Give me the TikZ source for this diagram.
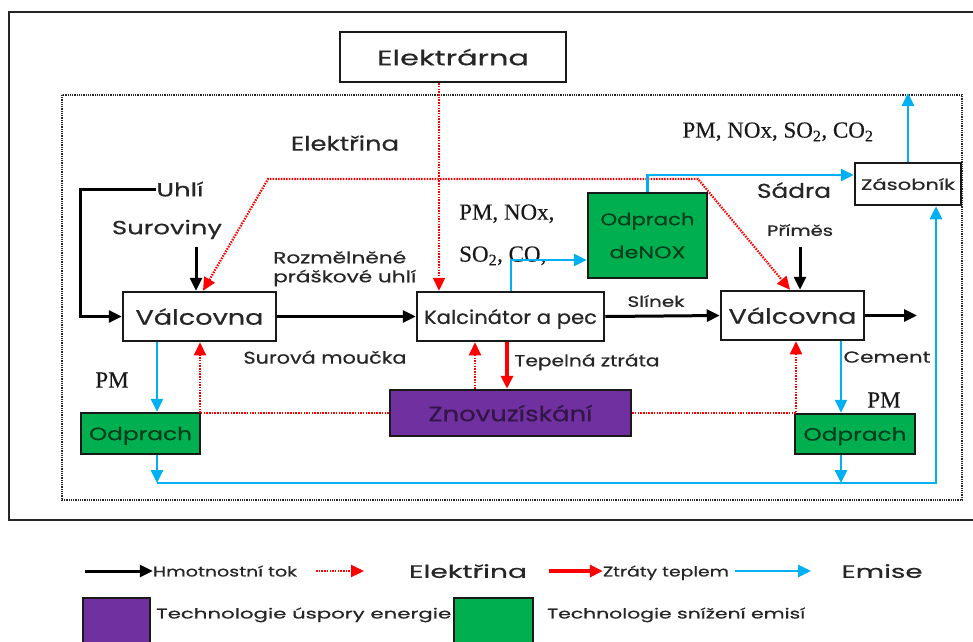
\documentclass[tikz,border=0pt]{standalone}
\usepackage{fontspec}
\usepackage{graphicx}
\usetikzlibrary{arrows.meta}
\newfontfamily\gothic[FakeBold=0.5]{Poppins}
\newfontfamily\timesfont[FakeBold=0.3]{Liberation Serif}
\definecolor{elred}{RGB}{255,0,0}
\definecolor{embl}{RGB}{0,176,240}
\definecolor{tgreen}{RGB}{0,176,80}
\definecolor{tpurple}{RGB}{112,48,160}
% stretch a label to a given width (pt), height kept
\newcommand\fitw[2]{\resizebox{#1pt}{\height}{#2}}
\tikzset{
  box/.style={draw=black!90,line width=2.5pt,fill=white,inner sep=0pt},
  txt/.style={font=\gothic\fontsize{#1}{#1}\selectfont,text=black!85,inner sep=0pt,text depth=0pt},
  ser/.style={font=\timesfont\fontsize{#1}{#1}\selectfont,text=black!90,inner sep=0pt,text depth=0pt},
  greenbox/.style={box,fill=tgreen,text=black!65!tgreen},
  purplebox/.style={box,fill=tpurple,text=black!55!tpurple},
  flow/.style={->,line width=3pt},
  elec/.style={elred,line width=2.2pt,dash pattern=on 1.5pt off 1.2pt},
  heat/.style={->,elred,line width=3.2pt},
  emis/.style={->,embl,line width=2.8pt}
}
\begin{document}
\begin{tikzpicture}[x=1pt,y=-1pt,>={Triangle[length=13pt,width=12pt]}]
\useasboundingbox (0,0) rectangle (973,641);
% frames
\draw[line width=2.2pt,black!85] (9,12) rectangle (990,520);
\draw[line width=2.2pt,black!85,dash pattern=on 1pt off 0.8pt] (62,95) rectangle (962,500);

% boxes
\node[box,txt=21,minimum width=226pt,minimum height=50pt] (elektrarna) at (453,57) {\fitw{152}{Elektrárna}};
\node[box,txt=21,minimum width=153pt,minimum height=49pt] (val1) at (199.5,316.5) {\fitw{128}{Válcovna}};
\node[box,txt=19,minimum width=187pt,minimum height=49pt] (kalc) at (510.5,316.5) {\fitw{173}{Kalcinátor a pec}};
\node[box,txt=21,minimum width=143pt,minimum height=49pt] (val2) at (792.5,315.5) {\fitw{128}{Válcovna}};
\node[box,txt=15,minimum width=106pt,minimum height=42pt] (zas) at (908,184) {\fitw{94}{Zásobník}};
\node[txt=17,greenbox,align=center,font=\gothic\fontsize{17}{33}\selectfont,minimum width=119pt,minimum height=85pt] (denox) at (647.5,235.5) {\fitw{94}{Odprach}\\\fitw{76}{deNOX}};
\node[txt=21,purplebox,minimum width=241pt,minimum height=46pt] (znovu) at (510.5,413) {\fitw{164}{Znovuzískání}};
\node[txt=18,greenbox,minimum width=119pt,minimum height=41pt] (odp1) at (140.5,433.5) {\fitw{103}{Odprach}};
\node[txt=18,greenbox,minimum width=120pt,minimum height=40pt] (odp2) at (855,434) {\fitw{103}{Odprach}};

% labels
\node[txt=20] (elabel) at (345,143) {\fitw{108}{Elektřina}};
\node[txt=19] (uhli) at (180,189) {\fitw{47}{Uhlí}};
\node[txt=19] (surov) at (167,227) {\fitw{110}{Suroviny}};
\node[txt=16,anchor=west] (roz1) at (273,257) {\fitw{133}{Rozmělněné}};
\node[txt=16,anchor=west] (roz2) at (273,276) {\fitw{143}{práškové uhlí}};
\node[txt=17] (moucka) at (325,357) {\fitw{163}{Surová moučka}};
\node[txt=16] (ztrata) at (587,360) {\fitw{145}{Tepelná ztráta}};
\node[txt=15] (slinek) at (656,301) {\fitw{57}{Slínek}};
\node[txt=20] (sadra) at (794,190) {\fitw{74}{Sádra}};
\node[txt=15] (primes) at (800,230) {\fitw{66}{Příměs}};
\node[txt=16] (cement) at (887,357) {\fitw{87}{Cement}};
\node[ser=23] (pm1) at (112,380) {PM};
\node[ser=23] (pm2) at (884,400) {PM};
\node[ser=23] (emtop) at (778,130) {PM, NOx, SO\textsubscript{2}, CO\textsubscript{2}};
\node[ser=23,anchor=west] (emk1) at (459,212) {PM, NOx,};
\node[ser=23,anchor=west] (emk2) at (459,254) {SO\textsubscript{2}, CO,};

% mass flow
\coordinate (uhliC) at (80,189);
\draw[flow] (uhli.west) -- (uhliC) |- (val1.west);
\coordinate (surS) at (196,247);
\draw[flow] (surS) -- (surS |- val1.north);
\draw[flow] (val1.east) -- (kalc.west);
\draw[flow] (kalc.east) -- (val2.west);
\coordinate (primS) at (800,247);
\draw[flow] (primS) -- (primS |- val2.north);
\coordinate (out) at (917,0);
\draw[flow] (val2.east) -- (out |- val2.east);

% electricity
\coordinate (eK) at (439,0);
\draw[elec,->] (elektrarna.south -| eK) -- (kalc.north -| eK);
\coordinate (eL) at (268,179);
\coordinate (eR) at (698,179);
\coordinate (eV1) at (203,0);
\coordinate (eV2) at (790,0);
\draw[elec,<->] (val1.north -| eV1) -- (eL) -- (eR) -- (val2.north -| eV2);
\coordinate (rL) at (200,413);
\draw[elec,->] (znovu.west) -- (rL) -- (val1.south -| rL);
\coordinate (rR) at (796,413);
\draw[elec,->] (znovu.east) -- (rR) -- (val2.south -| rR);
\coordinate (rU) at (475,0);
\draw[elec,->] (znovu.north -| rU) -- (kalc.south -| rU);

% heat loss
\coordinate (hD) at (507,0);
\draw[heat] (kalc.south -| hD) -- (znovu.north -| hD);

% emissions
\coordinate (bK) at (511,260);
\draw[emis] (kalc.north -| bK) |- (denox.west |- bK);
\coordinate (bD) at (647.5,175);
\draw[emis] (denox.north) |- (zas.west |- bD);
\coordinate (bTop) at (908,93);
\draw[emis] (zas.north) -- (bTop);
\coordinate (b1) at (157,0);
\draw[emis] (val1.south -| b1) -- (odp1.north -| b1);
\coordinate (bB1) at (157,483);
\draw[emis] (odp1.south -| bB1) -- (bB1);
\coordinate (b2) at (841,0);
\draw[emis,line width=2pt] (val2.south -| b2) -- (odp2.north -| b2);
\coordinate (bB2) at (841,483);
\draw[emis] (odp2.south -| bB2) -- (bB2);
\coordinate (bBR) at (936,483);
\draw[emis] (bB1) -- (bBR) -- (zas.south -| bBR);

% legend
\coordinate (lgA) at (85,571);
\node[txt=14] (lgmass) at (225,571) {\fitw{144}{Hmotnostní tok}};
\draw[flow] (lgA) -- (lgmass.west);
\coordinate (lgB) at (316,571);
\coordinate (lgB2) at (364,571);
\draw[elec,->] (lgB) -- (lgB2);
\node[txt=18] (lgel) at (468,571) {\fitw{118}{Elektřina}};
\coordinate (lgC) at (549,571);
\node[txt=14] (lgheat) at (666,571) {\fitw{126}{Ztráty teplem}};
\draw[heat] (lgC) -- (lgheat.west);
\coordinate (lgD) at (735,571);
\coordinate (lgD2) at (811,571);
\draw[emis] (lgD) -- (lgD2);
\node[txt=18] (lgem) at (882,571) {\fitw{81}{Emise}};
\node[box,fill=tpurple,minimum width=67pt,minimum height=48pt] (lgsave) at (116.5,622) {};
\node[txt=14,anchor=west] (lgsavet) at (156,613) {\fitw{295}{Technologie úspory energie}};
\node[box,fill=tgreen,minimum width=79pt,minimum height=48pt] (lgcut) at (493.5,622) {};
\node[txt=14,anchor=west] (lgcutt) at (547,613) {\fitw{258}{Technologie snížení emisí}};
\end{tikzpicture}
\end{document}
